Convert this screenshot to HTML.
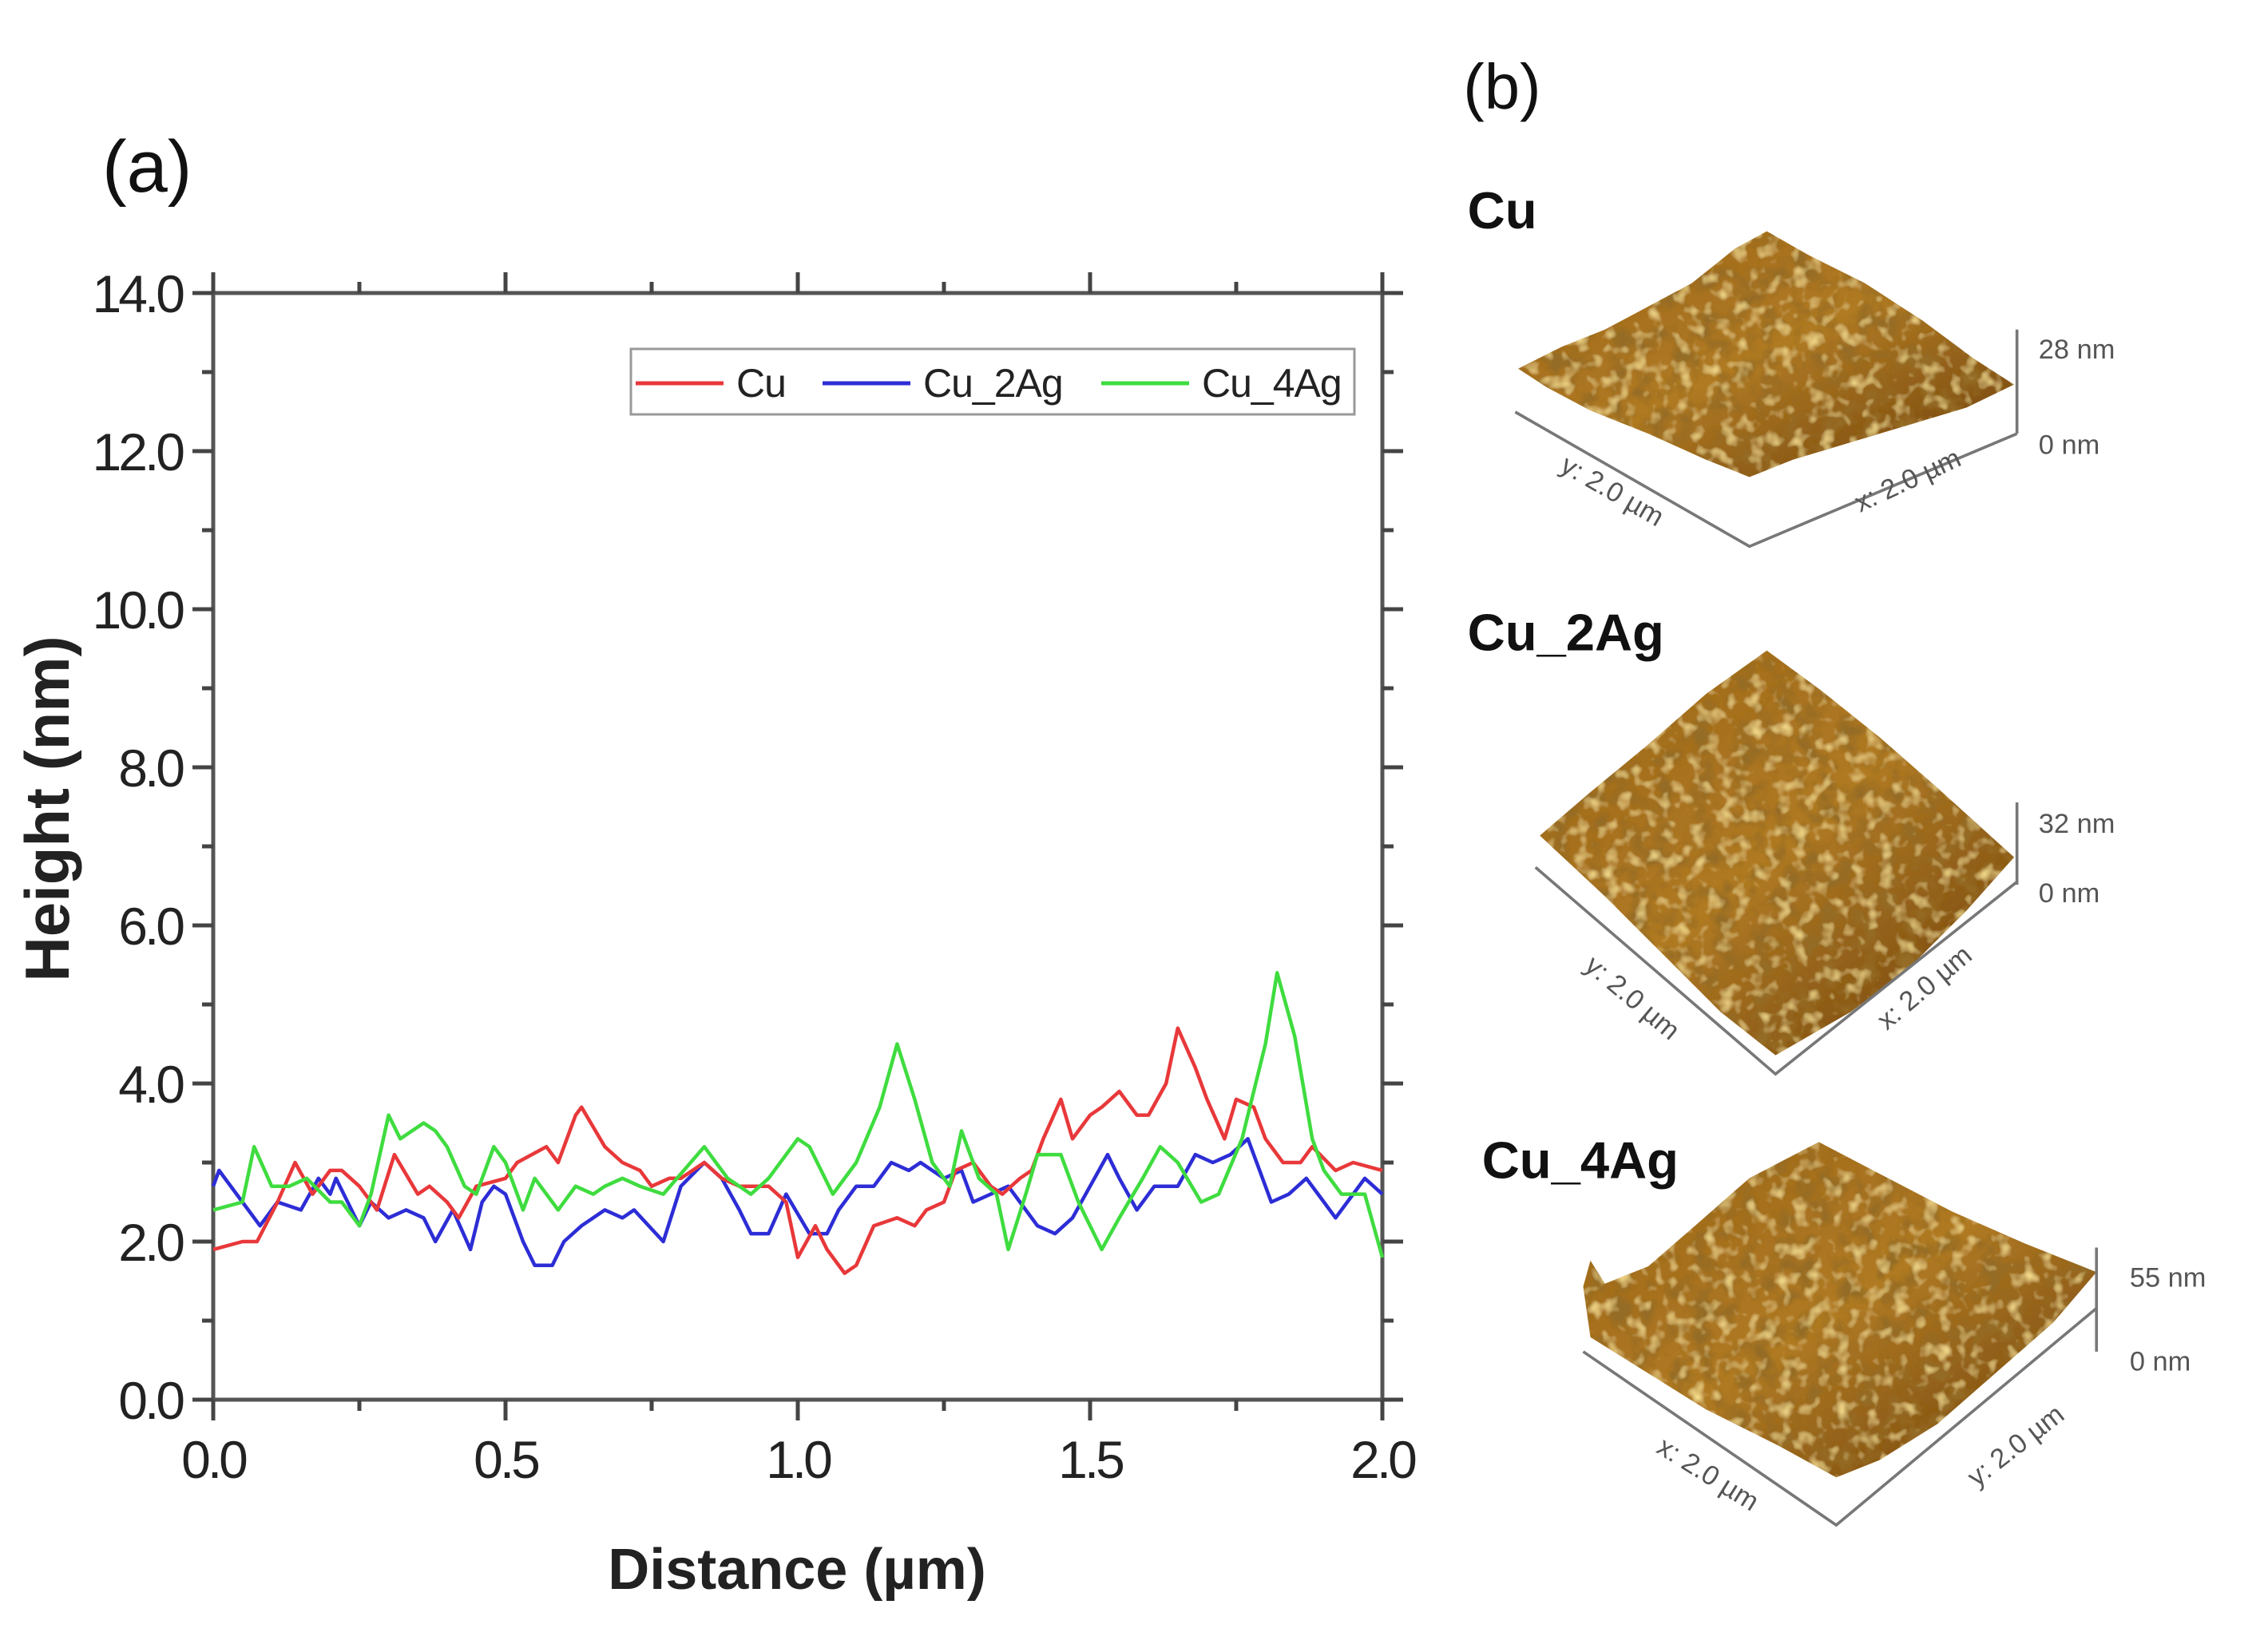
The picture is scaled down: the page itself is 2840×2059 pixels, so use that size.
<!DOCTYPE html>
<html><head><meta charset="utf-8"><style>
html,body{margin:0;padding:0;background:#fff;}
svg{display:block;font-family:"Liberation Sans",Arial,sans-serif;}
</style></head><body>
<svg id="fig" width="2840" height="2059" viewBox="0 0 2840 2059" xmlns="http://www.w3.org/2000/svg">
<defs>
<linearGradient id="brown" x1="0" y1="0" x2="1" y2="1">
<stop offset="0" stop-color="#9a6418"/><stop offset="0.5" stop-color="#b07a24"/><stop offset="1" stop-color="#6a3c0c"/>
</linearGradient>
<filter id="rough" x="0" y="0" width="1" height="1">
<feTurbulence type="fractalNoise" baseFrequency="0.07" numOctaves="3" seed="4" result="n"/>
<feColorMatrix in="n" type="matrix" values="0 0 0 0 0.3  0 0 0 0 0.15  0 0 0 0 0.02  0 0 0 3 -1.3" result="dark"/>
<feComposite in="dark" in2="SourceGraphic" operator="in" result="d2"/>
<feTurbulence type="fractalNoise" baseFrequency="0.1" numOctaves="2" seed="9" result="m"/>
<feColorMatrix in="m" type="matrix" values="0 0 0 0 0.9  0 0 0 0 0.7  0 0 0 0 0.25  0 0 0 2.6 -1.35" result="light"/>
<feComposite in="light" in2="SourceGraphic" operator="in" result="l2"/>
<feMerge><feMergeNode in="SourceGraphic"/><feMergeNode in="d2"/><feMergeNode in="l2"/></feMerge>
</filter>
</defs>
<text x="128" y="240" font-size="92" fill="#111">(a)</text>
<g id="chart"></g>

<g transform="scale(1.8105)">
<text x="1012" y="75" font-size="44" fill="#111">(b)</text>

<g>
<text x="1015" y="158" font-size="36" font-weight="bold" fill="#111">Cu</text>
<polygon points="1050,255 1080,240 1110,228 1140,212 1170,196 1200,172 1222,160 1250,176 1290,196 1330,222 1365,248 1393,266 1360,282 1320,294 1280,306 1240,318 1210,330 1180,318 1140,300 1100,284 1070,268" fill="url(#brown)" filter="url(#rough)"/>
<polyline points="1048,285 1210,378 1395,300" fill="none" stroke="#777" stroke-width="2"/>
<line x1="1395" y1="228" x2="1395" y2="300" stroke="#777" stroke-width="2"/>
<text x="1410" y="248" font-size="19" fill="#555">28 nm</text>
<text x="1410" y="314" font-size="19" fill="#555">0 nm</text>
<text x="1112" y="345" font-size="19" fill="#555" transform="rotate(30 1112 345)" text-anchor="middle">y: 2.0 µm</text>
<text x="1322" y="338" font-size="19" fill="#555" transform="rotate(-25 1322 338)" text-anchor="middle">x: 2.0 µm</text>
</g>

<g>
<text x="1015" y="450" font-size="36" font-weight="bold" fill="#111">Cu_2Ag</text>
<polygon points="1065,578 1100,548 1140,515 1180,480 1222,450 1260,478 1300,510 1340,545 1393,593 1360,630 1320,670 1280,700 1228,730 1190,700 1150,660 1110,620" fill="url(#brown)" filter="url(#rough)"/>
<polyline points="1062,600 1228,743 1395,610" fill="none" stroke="#777" stroke-width="2"/>
<line x1="1395" y1="555" x2="1395" y2="612" stroke="#777" stroke-width="2"/>
<text x="1410" y="576" font-size="19" fill="#555">32 nm</text>
<text x="1410" y="624" font-size="19" fill="#555">0 nm</text>
<text x="1125" y="695" font-size="19" fill="#555" transform="rotate(40 1125 695)" text-anchor="middle">y: 2.0 µm</text>
<text x="1335" y="688" font-size="19" fill="#555" transform="rotate(-40 1335 688)" text-anchor="middle">x: 2.0 µm</text>
</g>

<g>
<text x="1025" y="815" font-size="36" font-weight="bold" fill="#111">Cu_4Ag</text>
<polygon points="1095,890 1100,872 1110,888 1140,876 1170,850 1210,815 1258,790 1300,812 1350,838 1400,860 1450,880 1420,915 1380,950 1340,985 1300,1010 1270,1022 1230,1000 1180,975 1140,950 1100,925" fill="url(#brown)" filter="url(#rough)"/>
<polyline points="1095,935 1270,1055 1450,905" fill="none" stroke="#777" stroke-width="2"/>
<line x1="1450" y1="863" x2="1450" y2="935" stroke="#777" stroke-width="2"/>
<text x="1473" y="890" font-size="19" fill="#555">55 nm</text>
<text x="1473" y="948" font-size="19" fill="#555">0 nm</text>
<text x="1178" y="1025" font-size="19" fill="#555" transform="rotate(32 1178 1025)" text-anchor="middle">x: 2.0 µm</text>
<text x="1398" y="1005" font-size="19" fill="#555" transform="rotate(-38 1398 1005)" text-anchor="middle">y: 2.0 µm</text>
</g>
</g>
</svg>
<script>
const xTicks = [0, 0.5, 1.0, 1.5, 2.0];
const xTickLabels = ["0.0", "0.5", "1.0", "1.5", "2.0"];
const yTicks = [0, 2, 4, 6, 8, 10, 12, 14];
const yTickLabels = ["0.0", "2.0", "4.0", "6.0", "8.0", "10.0", "12.0", "14.0"];
const seriesNames = ["Cu", "Cu_2Ag", "Cu_4Ag"];
const seriesColors = ["#e8383a", "#2d2dd6", "#3fdc3f"];
const cuX = [0,0.05,0.075,0.11,0.14,0.17,0.2,0.22,0.25,0.28,0.31,0.35,0.37,0.4,0.42,0.45,0.5,0.52,0.57,0.59,0.62,0.63,0.67,0.7,0.73,0.75,0.78,0.8,0.84,0.87,0.9,0.95,0.98,1.0,1.03,1.05,1.08,1.1,1.13,1.17,1.2,1.22,1.25,1.27,1.3,1.33,1.35,1.38,1.4,1.42,1.45,1.47,1.5,1.52,1.55,1.58,1.6,1.63,1.65,1.68,1.7,1.73,1.75,1.78,1.8,1.83,1.86,1.88,1.92,1.95,2.0];
const cuY = [1.9,2.0,2.0,2.5,3.0,2.6,2.9,2.9,2.7,2.4,3.1,2.6,2.7,2.5,2.3,2.7,2.8,3.0,3.2,3.0,3.6,3.7,3.2,3.0,2.9,2.7,2.8,2.8,3.0,2.8,2.7,2.7,2.5,1.8,2.2,1.9,1.6,1.7,2.2,2.3,2.2,2.4,2.5,2.9,3.0,2.7,2.6,2.8,2.9,3.3,3.8,3.3,3.6,3.7,3.9,3.6,3.6,4.0,4.7,4.2,3.8,3.3,3.8,3.7,3.3,3.0,3.0,3.2,2.9,3.0,2.9];
const ag2X = [0,0.01,0.05,0.08,0.11,0.15,0.18,0.2,0.21,0.25,0.27,0.3,0.33,0.36,0.38,0.41,0.44,0.46,0.48,0.5,0.53,0.55,0.58,0.6,0.63,0.67,0.7,0.72,0.77,0.8,0.84,0.87,0.9,0.92,0.95,0.98,1.02,1.05,1.07,1.1,1.13,1.16,1.19,1.21,1.25,1.28,1.3,1.33,1.36,1.38,1.41,1.44,1.47,1.5,1.53,1.55,1.58,1.61,1.65,1.68,1.71,1.74,1.77,1.79,1.81,1.84,1.87,1.9,1.92,1.95,1.97,2.0];
const ag2Y = [2.7,2.9,2.5,2.2,2.5,2.4,2.8,2.6,2.8,2.2,2.5,2.3,2.4,2.3,2.0,2.4,1.9,2.5,2.7,2.6,2.0,1.7,1.7,2.0,2.2,2.4,2.3,2.4,2.0,2.7,3.0,2.8,2.4,2.1,2.1,2.6,2.1,2.1,2.4,2.7,2.7,3.0,2.9,3.0,2.8,2.9,2.5,2.6,2.7,2.5,2.2,2.1,2.3,2.7,3.1,2.8,2.4,2.7,2.7,3.1,3.0,3.1,3.3,2.9,2.5,2.6,2.8,2.5,2.3,2.6,2.8,2.6];
const ag4X = [0,0.05,0.07,0.1,0.13,0.16,0.2,0.22,0.25,0.27,0.3,0.32,0.36,0.38,0.4,0.43,0.45,0.48,0.5,0.53,0.55,0.59,0.62,0.65,0.67,0.7,0.73,0.77,0.84,0.88,0.92,0.95,1.0,1.02,1.06,1.1,1.14,1.17,1.2,1.23,1.26,1.28,1.31,1.34,1.36,1.39,1.41,1.45,1.48,1.52,1.55,1.59,1.62,1.65,1.69,1.72,1.76,1.8,1.82,1.85,1.88,1.9,1.93,1.97,2.0];
const ag4Y = [2.4,2.5,3.2,2.7,2.7,2.8,2.5,2.5,2.2,2.6,3.6,3.3,3.5,3.4,3.2,2.7,2.6,3.2,3.0,2.4,2.8,2.4,2.7,2.6,2.7,2.8,2.7,2.6,3.2,2.8,2.6,2.8,3.3,3.2,2.6,3.0,3.7,4.5,3.8,3.0,2.7,3.4,2.8,2.6,1.9,2.6,3.1,3.1,2.5,1.9,2.3,2.8,3.2,3.0,2.5,2.6,3.3,4.5,5.4,4.6,3.3,2.9,2.6,2.6,1.8];

const NS = "http://www.w3.org/2000/svg";
const L = 267, R = 1731, T = 367, B = 1753;
const X0 = 0, X1 = 2, Y0 = 0, Y1 = 14;
function xs(v){ return L + (v - X0) / (X1 - X0) * (R - L); }
function ys(v){ return B - (v - Y0) / (Y1 - Y0) * (B - T); }
const g = document.getElementById("chart");
function mk(tag, attrs, parent){
  const e = document.createElementNS(NS, tag);
  for (const k in attrs) e.setAttribute(k, attrs[k]);
  (parent || g).appendChild(e);
  return e;
}
const frame = mk("rect", {x:L, y:T, width:R-L, height:B-T, fill:"none", stroke:"#555", "stroke-width":5});


for (let i = 0; i <= 8; i++) {
  const v = X0 + i * 0.25, x = xs(v), len = (i % 2 === 0) ? 26 : 14;
  mk("line", {x1:x, y1:B, x2:x, y2:B+len, stroke:"#444", "stroke-width":5});
  mk("line", {x1:x, y1:T, x2:x, y2:T-len, stroke:"#444", "stroke-width":5});
}
xTicks.forEach((v, i) => {
  const t = mk("text", {x:xs(v), y:B+98, "font-size":66, "text-anchor":"middle", fill:"#222", "letter-spacing":"-4"});
  t.textContent = xTickLabels[i];
  
  
});
for (let v = Y0; v <= Y1; v += 1) {
  const y = ys(v), len = (v % 2 === 0) ? 26 : 14;
  mk("line", {x1:L, y1:y, x2:L-len, y2:y, stroke:"#444", "stroke-width":5});
  mk("line", {x1:R, y1:y, x2:R+len, y2:y, stroke:"#444", "stroke-width":5});
}
yTicks.forEach((v, i) => {
  const t = mk("text", {x:228, y:ys(v)+24, "font-size":66, "text-anchor":"end", fill:"#222", "letter-spacing":"-4"});
  t.textContent = yTickLabels[i];
  
  
});
const xt = mk("text", {x:998, y:1990, "font-size":72, "font-weight":"bold", "text-anchor":"middle", fill:"#222"});
xt.textContent = "Distance (µm)";


const yt = mk("text", {x:0, y:0, "font-size":78, "font-weight":"bold", "text-anchor":"middle", fill:"#222", transform:"translate(86,1013) rotate(-90)"});
yt.textContent = "Height (nm)";


const allX = [cuX, ag2X, ag4X], allY = [cuY, ag2Y, ag4Y];
const order = [1, 0, 2];
order.forEach(s => {
  const pts = allX[s].map((v, i) => xs(v).toFixed(1) + "," + ys(allY[s][i]).toFixed(1)).join(" ");
  const p = mk("polyline", {points:pts, fill:"none", stroke:seriesColors[s], "stroke-width":4.5, "stroke-linejoin":"round"});
  
  
});
const lg = mk("g", {});


mk("rect", {x:790, y:437, width:906, height:82, fill:"#fff", stroke:"#999", "stroke-width":3}, lg);
const legX = [796, 1030, 1379];
seriesNames.forEach((n, i) => {
  mk("line", {x1:legX[i], y1:480, x2:legX[i]+110, y2:480, stroke:seriesColors[i], "stroke-width":5}, lg);
  const t = mk("text", {x:legX[i]+126, y:497, "font-size":50, fill:"#222", "letter-spacing":"-1"}, lg);
  t.textContent = n;
  
  
});
</script>
</body></html>
